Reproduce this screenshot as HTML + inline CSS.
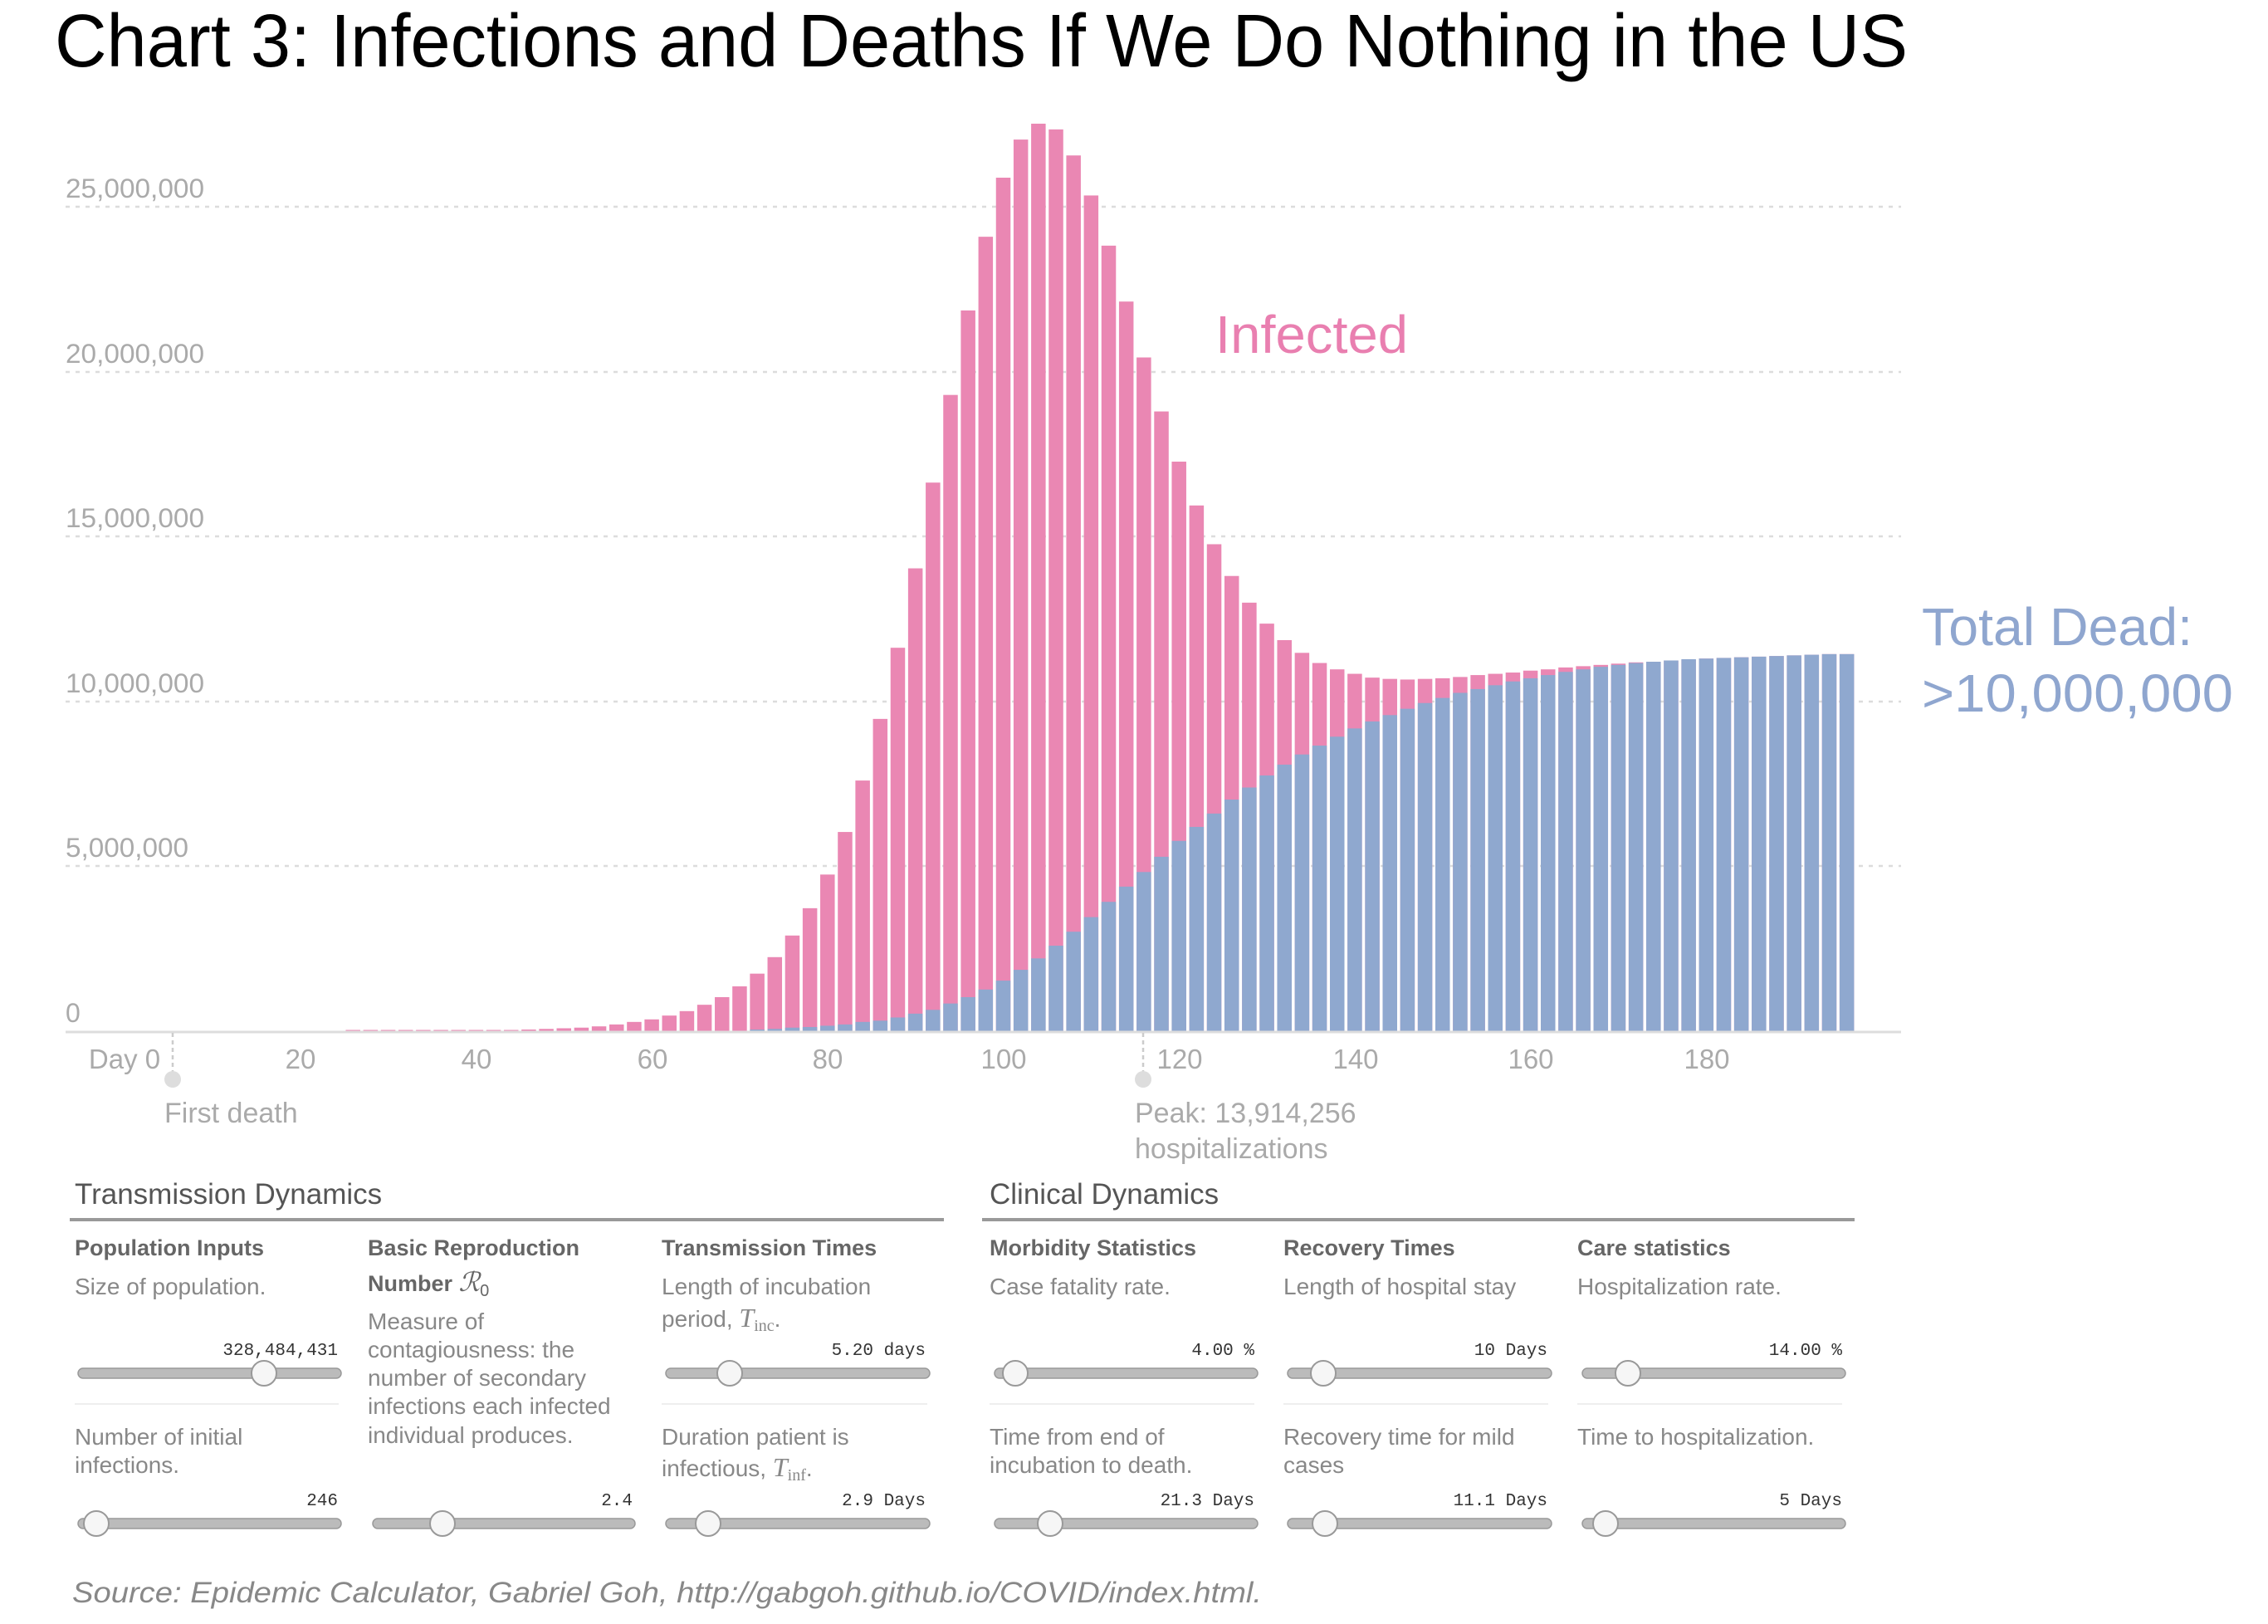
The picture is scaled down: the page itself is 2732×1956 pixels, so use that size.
<!DOCTYPE html>
<html><head><meta charset="utf-8"><style>
html,body{margin:0;padding:0;background:#fff;}
svg{display:block;}
text{font-family:"Liberation Sans",sans-serif;}
.mono{font-family:"Liberation Mono",monospace;}
</style></head><body>
<svg id="s" width="2732" height="1956" viewBox="0 0 2732 1956" xmlns="http://www.w3.org/2000/svg">
<text x="66" y="80" font-size="90" fill="#000" textLength="2232" lengthAdjust="spacingAndGlyphs">Chart 3: Infections and Deaths If We Do Nothing in the US</text>
<g id="grid" stroke="#dcdcdc" stroke-width="2.5" stroke-dasharray="5,7">
<line x1="79" y1="249" x2="2290" y2="249"/>
<line x1="79" y1="448" x2="2290" y2="448"/>
<line x1="79" y1="646" x2="2290" y2="646"/>
<line x1="79" y1="845" x2="2290" y2="845"/>
<line x1="79" y1="1043" x2="2290" y2="1043"/>
</g>
<g font-size="32" fill="#aaa">
<text x="79" y="238" textLength="167" lengthAdjust="spacingAndGlyphs">25,000,000</text>
<text x="79" y="437" textLength="167" lengthAdjust="spacingAndGlyphs">20,000,000</text>
<text x="79" y="635" textLength="167" lengthAdjust="spacingAndGlyphs">15,000,000</text>
<text x="79" y="834" textLength="167" lengthAdjust="spacingAndGlyphs">10,000,000</text>
<text x="79" y="1032" textLength="148" lengthAdjust="spacingAndGlyphs">5,000,000</text>
<text x="79" y="1231">0</text>
</g>
<g id="bars"></g>
<line x1="79" y1="1243" x2="2290" y2="1243" stroke="#ddd" stroke-width="3"/>
<g font-size="33" fill="#aaa" text-anchor="middle">
<text x="150" y="1287">Day 0</text>
<text x="362" y="1287">20</text>
<text x="574" y="1287">40</text>
<text x="786" y="1287">60</text>
<text x="997" y="1287">80</text>
<text x="1209" y="1287">100</text>
<text x="1421" y="1287">120</text>
<text x="1633" y="1287">140</text>
<text x="1844" y="1287">160</text>
<text x="2056" y="1287">180</text>
</g>
<line x1="208" y1="1244" x2="208" y2="1298" stroke="#ccc" stroke-width="2.5" stroke-dasharray="5,4"/>
<circle cx="208" cy="1300" r="10" fill="#ddd"/>
<line x1="1377" y1="1244" x2="1377" y2="1298" stroke="#ccc" stroke-width="2.5" stroke-dasharray="5,4"/>
<circle cx="1377" cy="1300" r="10" fill="#ddd"/>
<g font-size="34" fill="#aaa">
<text x="198" y="1352">First death</text>
<text x="1367" y="1352">Peak: 13,914,256</text>
<text x="1367" y="1395">hospitalizations</text>
</g>
<text x="1464" y="425" font-size="64" fill="#e97fb0" textLength="232" lengthAdjust="spacingAndGlyphs">Infected</text>
<text x="2315" y="777" font-size="64" fill="#8fa6cf" textLength="326" lengthAdjust="spacingAndGlyphs">Total Dead:</text>
<text x="2315" y="857" font-size="64" fill="#8fa6cf" textLength="375" lengthAdjust="spacingAndGlyphs">&gt;10,000,000</text>

<g font-size="35" fill="#555">
<text x="90" y="1450">Transmission Dynamics</text>
<text x="1192" y="1450">Clinical Dynamics</text>
</g>
<rect x="84" y="1467" width="1053" height="4" fill="#999"/>
<rect x="1183" y="1467" width="1051" height="4" fill="#999"/>
<g font-size="27" fill="#666" font-weight="bold">
<text x="90" y="1512">Population Inputs</text>
<text x="443" y="1512">Basic Reproduction</text>
<text x="443" y="1555">Number <tspan font-family="Liberation Serif" font-style="italic" font-weight="normal" font-size="32">ℛ</tspan><tspan font-weight="normal" font-size="20" dy="6">0</tspan></text>
<text x="797" y="1512">Transmission Times</text>
<text x="1192" y="1512">Morbidity Statistics</text>
<text x="1546" y="1512">Recovery Times</text>
<text x="1900" y="1512">Care statistics</text>
</g>
<g font-size="28" fill="#888">
<text x="90" y="1559">Size of population.</text>
<text x="443" y="1601">Measure of</text>
<text x="443" y="1635">contagiousness: the</text>
<text x="443" y="1669">number of secondary</text>
<text x="443" y="1703">infections each infected</text>
<text x="443" y="1738">individual produces.</text>
<text x="797" y="1559">Length of incubation</text>
<text x="797" y="1598">period, <tspan font-family="Liberation Serif" font-style="italic" font-size="32">T</tspan><tspan font-family="Liberation Serif" font-size="20" dy="5">inc</tspan><tspan dy="-5">.</tspan></text>
<text x="1192" y="1559">Case fatality rate.</text>
<text x="1546" y="1559">Length of hospital stay</text>
<text x="1900" y="1559">Hospitalization rate.</text>
<text x="90" y="1740">Number of initial</text>
<text x="90" y="1774">infections.</text>
<text x="797" y="1740">Duration patient is</text>
<text x="797" y="1778">infectious, <tspan font-family="Liberation Serif" font-style="italic" font-size="32">T</tspan><tspan font-family="Liberation Serif" font-size="20" dy="5">inf</tspan><tspan dy="-5">.</tspan></text>
<text x="1192" y="1740">Time from end of</text>
<text x="1192" y="1774">incubation to death.</text>
<text x="1546" y="1740">Recovery time for mild</text>
<text x="1546" y="1774">cases</text>
<text x="1900" y="1740">Time to hospitalization.</text>
</g>
<g stroke="#eee" stroke-width="2">
<line x1="90" y1="1691" x2="408" y2="1691"/>
<line x1="797" y1="1691" x2="1117" y2="1691"/>
<line x1="1192" y1="1691" x2="1511" y2="1691"/>
<line x1="1546" y1="1691" x2="1865" y2="1691"/>
<line x1="1900" y1="1691" x2="2219" y2="1691"/>
</g>
<g id="sliders"></g>
<text x="87" y="1930" font-size="35" fill="#888" font-style="italic" textLength="1433" lengthAdjust="spacingAndGlyphs">Source: Epidemic Calculator, Gabriel Goh, http://gabgoh.github.io/COVID/index.html.</text>
</svg>
<script>
var NS="http://www.w3.org/2000/svg";
function el(p,t,a){var e=document.createElementNS(NS,t);for(var k in a)e.setAttribute(k,a[k]);p.appendChild(e);return e;}
var inf={46:1490,48:1489,50:1488,52:1487,54:1485,56:1482,58:1478,60:1474,62:1468,64:1461,66:1451,68:1439,70:1422,72:1402,74:1376,76:1342,78:1299,80:1246,82:1179,84:1098,86:1001,88:889,90:764,92:629,94:491,96:358,98:242,100:149,102:89,104:64,106:73,108:114,110:177,112:256,114:344,116:432,118:517,120:596,122:665,124:726,126:776,128:818,130:851,132:877,134:897,136:913,138:923,140:930,142:936,144:938,146:939,148:938,150:937,152:935,154:932,156:930,158:928,160:925,162:923,164:920,166:918,168:916,170:914,172:912,174:911,176:909,178:908,180:906,182:905,184:904,186:903,188:902,190:901,192:900,194:899,196:899};
var dead={72:1490,74:1489,76:1487,78:1486,80:1484,82:1482,84:1478,86:1476,88:1471,90:1465,92:1459,94:1449,96:1439,98:1427,100:1413,102:1396,104:1378,106:1358,108:1336,110:1313,112:1289,114:1265,116:1242,118:1218,120:1193,122:1171,124:1150,126:1128,128:1109,130:1090,132:1073,134:1057,136:1043,138:1029,140:1016,142:1005,144:995,146:985,148:976,150:968,152:960,154:954,156:948,158:942,160:937,162:932,164:927,166:923,168:919,170:916,172:913,174:911,176:909,178:907,180:906,182:905,184:904,186:903,188:902,190:901,192:900,194:899,196:899};
var g=document.getElementById("bars"),base=1242;
function Y(z){return 100+z/1.307;}
for(var d=26;d<=196;d+=2){
 var cx=150+d*10.585,w=17.5,x=cx-w/2;
 var zi=inf[d]!==undefined?inf[d]:1491;
 var yi=Y(zi);
 if(base-yi<1.5)yi=base-1.5;
 el(g,"rect",{x:x,y:yi,width:w,height:base-yi,fill:"#ea87b3"});
 if(dead[d]!==undefined){var yd=Y(dead[d]);if(base-yd<1)yd=base-1;el(g,"rect",{x:x,y:yd,width:w,height:base-yd,fill:"#8fa8cf"});}
}
var sl=document.getElementById("sliders");
var S=[[94,411,1654,318,407,1632,"328,484,431"],[802,1120,1654,879,1115,1632,"5.20 days"],
[1198,1515,1654,1223,1511,1632,"4.00 %"],[1551,1869,1654,1594,1864,1632,"10 Days"],[1906,2223,1654,1961,2219,1632,"14.00 %"],
[94,411,1835,116,407,1813,"246"],[449,765,1835,533,762,1813,"2.4"],[802,1120,1835,853,1115,1813,"2.9 Days"],
[1198,1515,1835,1265,1511,1813,"21.3 Days"],[1551,1869,1835,1596,1864,1813,"11.1 Days"],[1906,2223,1835,1934,2219,1813,"5 Days"]];
S.forEach(function(s){
 el(sl,"rect",{x:s[0],y:s[2]-6,width:s[1]-s[0],height:12,rx:6,fill:"#bbb",stroke:"#999","stroke-width":1.5});
 el(sl,"circle",{cx:s[3],cy:s[2],r:15,fill:"#f6f6f6",stroke:"#999","stroke-width":2});
 var t=el(sl,"text",{x:s[4],y:s[5],"font-size":21,fill:"#333","text-anchor":"end","class":"mono"});t.textContent=s[6];
});
</script>
</body></html>
